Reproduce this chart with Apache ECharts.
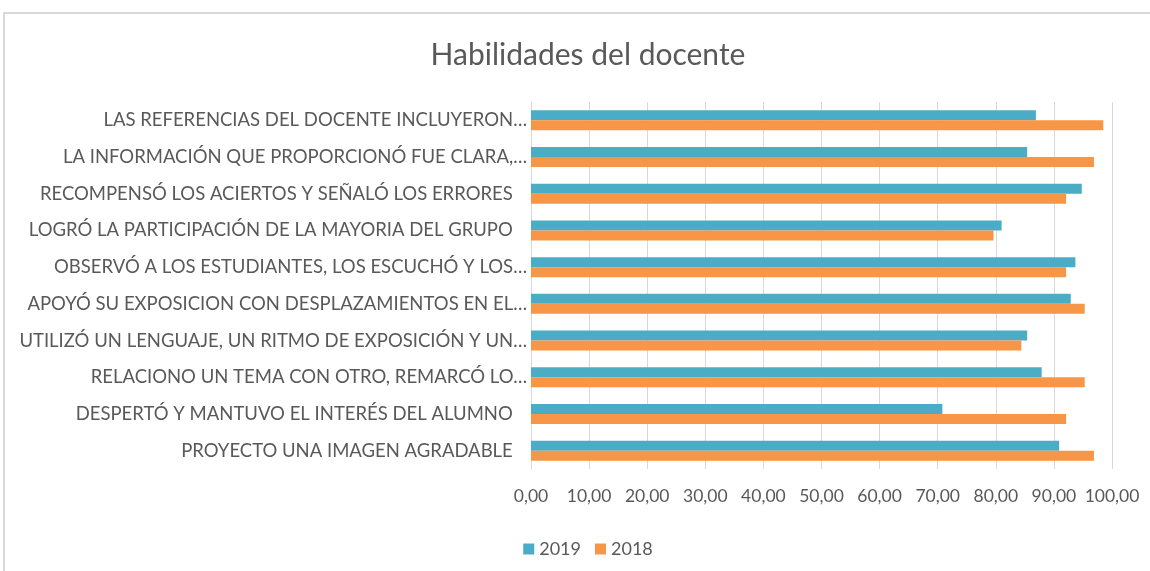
<!DOCTYPE html>
<html>
<head>
<meta charset="utf-8">
<script src="https://cdn.jsdelivr.net/npm/echarts@6/dist/echarts.min.js"></script>
<style>
  html, body { margin: 0; padding: 0; background: #fff; overflow: hidden; }
  #frame { position: absolute; left: 3px; top: 12px; width: 1200px; height: 600px; border: 2px solid #d9d9d9; }
  #main { position: absolute; left: 0; top: 0; width: 1176px; height: 571px; }
</style>
</head>
<body>
<div id="frame"></div>
<div id="main"></div>
<script>
// categories from bottom to top
const categories = [
  'PROYECTO UNA IMAGEN AGRADABLE   ',
  'DESPERTÓ Y MANTUVO EL INTERÉS DEL ALUMNO   ',
  'RELACIONO UN TEMA CON OTRO, REMARCÓ LO…',
  'UTILIZÓ UN LENGUAJE, UN RITMO DE EXPOSICIÓN Y UN…',
  'APOYÓ SU EXPOSICION CON DESPLAZAMIENTOS EN EL…',
  'OBSERVÓ A LOS ESTUDIANTES, LOS ESCUCHÓ Y LOS…',
  'LOGRÓ LA PARTICIPACIÓN DE LA MAYORIA DEL GRUPO   ',
  'RECOMPENSÓ LOS ACIERTOS Y SEÑALÓ LOS ERRORES   ',
  'LA INFORMACIÓN QUE PROPORCIONÓ FUE CLARA,…',
  'LAS REFERENCIAS DEL DOCENTE INCLUYERON…'
];
const values2019 = [90.9, 70.8, 87.9, 85.4, 92.9, 93.7, 81.0, 94.8, 85.4, 86.9];
const values2018 = [96.9, 92.1, 95.3, 84.4, 95.3, 92.1, 79.6, 92.1, 96.9, 98.5];

const textColor = '#595959';
const fontName = 'Lato, "Open Sans", sans-serif';

var myChart = echarts.init(document.getElementById('main'));
let option = {
  title: {
    text: 'Habilidades del docente',
    left: 'center',
    top: 35,
    textStyle: { fontSize: 30, fontWeight: 'normal', color: textColor, fontFamily: fontName }
  },
  legend: {
    data: ['2019', '2018'],
    left: 'center',
    top: 535,
    itemWidth: 11,
    itemHeight: 11,
    itemGap: 14,
    icon: 'rect',
    textStyle: { fontSize: 18, color: textColor, fontFamily: fontName }
  },
  grid: {
    left: 531,
    right: 64,
    top: 102,
    bottom: 102,
    containLabel: false
  },
  xAxis: {
    type: 'value',
    min: 0,
    max: 100,
    interval: 10,
    axisLine: { show: false },
    axisTick: { show: false },
    splitLine: { lineStyle: { color: '#d9d9d9', width: 1 } },
    axisLabel: {
      margin: 18,
      fontSize: 17.5,
      color: textColor,
      fontFamily: fontName,
      formatter: function (v) { return v.toFixed(2).replace('.', ','); }
    }
  },
  yAxis: {
    type: 'category',
    data: categories,
    axisTick: { show: false },
    axisLine: { show: true, lineStyle: { color: '#d9d9d9' } },
    axisLabel: {
      margin: 4,
      fontSize: 18.5,
      color: textColor,
      fontFamily: fontName
    }
  },
  series: [
    {
      name: '2019',
      type: 'bar',
      barWidth: 10,
      barGap: '0%',
      itemStyle: { color: '#4bacc6' },
      data: values2019
    },
    {
      name: '2018',
      type: 'bar',
      barWidth: 10,
      barGap: '0%',
      itemStyle: { color: '#f79646' },
      data: values2018
    }
  ]
};
myChart.setOption(option);
</script>
</body>
</html>
